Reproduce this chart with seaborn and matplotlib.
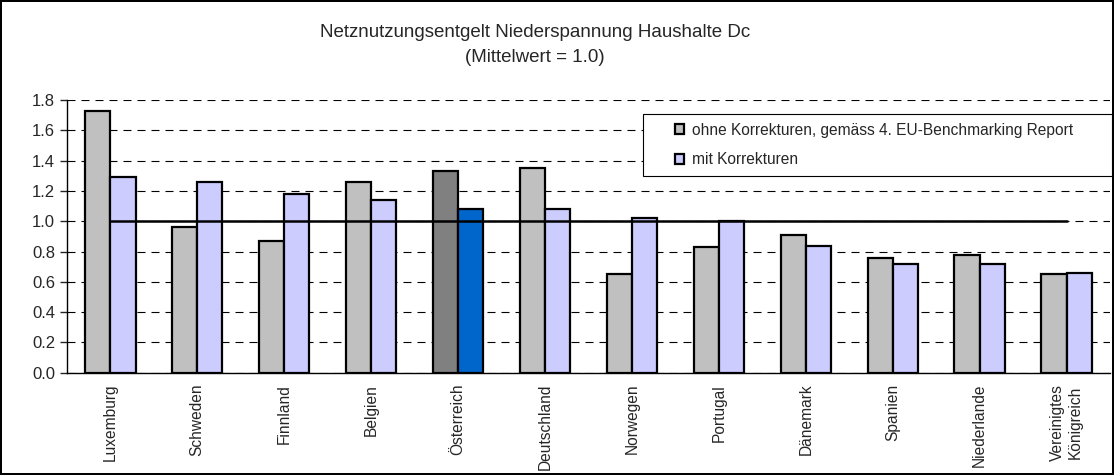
import numpy as np
import pandas as pd
import matplotlib
matplotlib.use("Agg")
import matplotlib.pyplot as plt
from matplotlib.patches import Rectangle
import seaborn as sns

# Werte
laender = ["Luxemburg", "Schweden", "Finnland", "Belgien", "Österreich",
           "Deutschland", "Norwegen", "Portugal", "Dänemark", "Spanien",
           "Niederlande", "Vereinigtes\nKönigreich"]
ohne_korrektur = [1.73, 0.96, 0.87, 1.26, 1.33, 1.35, 0.65, 0.83, 0.91, 0.76, 0.78, 0.65]
mit_korrektur = [1.29, 1.26, 1.18, 1.14, 1.08, 1.08, 1.02, 1.00, 0.84, 0.72, 0.72, 0.66]
serien = ["ohne Korrekturen, gemäss 4. EU-Benchmarking Report", "mit Korrekturen"]
mittelwert = 1.0
hervorgehoben = "Österreich"

sns.set_style("white")
plt.rcParams["font.family"] = ["Liberation Sans", "DejaVu Sans"]

df = pd.DataFrame({
    "Land": laender * 2,
    "Wert": ohne_korrektur + mit_korrektur,
    "Serie": [serien[0]] * len(laender) + [serien[1]] * len(laender),
})

fig = plt.figure(figsize=(11.14, 4.75), dpi=100, edgecolor="black", linewidth=1.5)
ax = fig.add_axes([0.060, 0.2154, 0.9365, 0.5736])

sns.barplot(data=df, x="Land", y="Wert", hue="Serie", palette=["#C0C0C0", "#CCCCFF"],
            saturation=1, width=0.58, edgecolor="black", linewidth=1.6, ax=ax)

# Österreich farblich hervorheben
idx = laender.index(hervorgehoben)
ax.containers[0][idx].set_facecolor("#808080")
ax.containers[1][idx].set_facecolor("#0066CC")

# Mittelwert-Linie
ax.plot([0, len(laender) - 1], [mittelwert, mittelwert], color="black", lw=1.8, zorder=5)

ax.set_ylim(0, 1.8)
ax.set_xlim(-0.5, len(laender) - 0.5)
ax.set_yticks(np.arange(0, 1.81, 0.2))
ax.set_yticklabels([f"{v:.1f}" for v in np.arange(0, 1.81, 0.2)], fontsize=12)
ax.yaxis.grid(True, linestyle=(0, (7.2, 5.4)), color="black", linewidth=0.8)
ax.set_axisbelow(True)

ax.set_xticks(np.arange(-0.5, len(laender), 1), minor=True)
ax.tick_params(axis="x", which="major", length=0, pad=8)
ax.tick_params(axis="x", which="minor", length=5, direction="out", width=1)
ax.tick_params(axis="y", length=5, direction="out", width=1, left=True)
ax.set_xticks(range(len(laender)))
ax.set_xticklabels(laender, rotation=90, fontsize=11.2, va="top", ha="center")

ax.set_xlabel("")
ax.set_ylabel("")
for s in ["top", "right"]:
    ax.spines[s].set_visible(False)
for s in ["left", "bottom"]:
    ax.spines[s].set_color("black")
    ax.spines[s].set_linewidth(1)

# Legendenrahmen separat, damit er breiter als der Inhalt sein kann
box = Rectangle((643 / 1114, 1 - 176 / 475), 469 / 1114, 62 / 475, transform=fig.transFigure,
                facecolor="white", edgecolor="black", linewidth=0.8, zorder=6)
ax.add_patch(box)
box.set_clip_on(False)

handles, labels = ax.get_legend_handles_labels()
leg = ax.legend(handles, labels, loc="center left", bbox_to_anchor=(675 / 1114, 1 - 145 / 475),
                bbox_transform=fig.transFigure, fontsize=11.2, frameon=False,
                handlelength=0.6, handleheight=0.6, handletextpad=0.5,
                borderpad=0, labelspacing=0.95, borderaxespad=0)
leg.set_zorder(7)

fig.text(0.48, 0.932, "Netznutzungsentgelt Niederspannung Haushalte Dc",
         ha="center", va="center", fontsize=13.5)
fig.text(0.48, 0.878, "(Mittelwert = 1.0)", ha="center", va="center", fontsize=13.5)

fig.savefig("out.png", dpi=100)
